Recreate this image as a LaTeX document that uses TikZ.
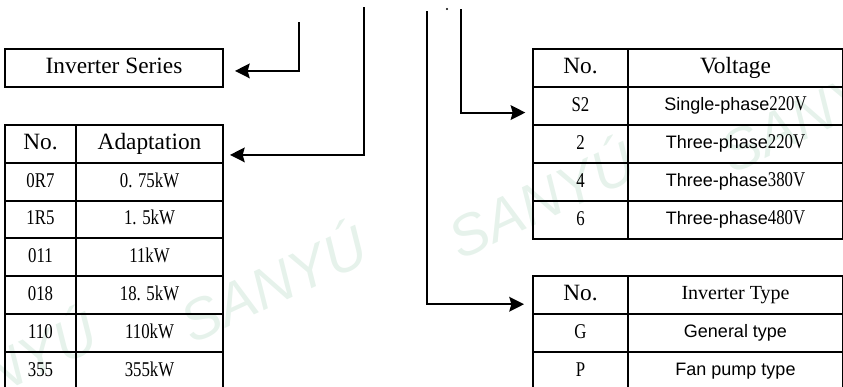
\documentclass[tikz,border=0pt]{standalone}
\usepackage{fontspec}
\setmainfont{Liberation Serif}
\setsansfont{Liberation Sans}
\newfontfamily\codefont[FakeStretch=0.8]{Liberation Serif}
\usetikzlibrary{arrows.meta}

\definecolor{wmark}{RGB}{230,242,235}
\newcommand\voltnum[1]{{\codefont\fontsize{15.75}{18}\selectfont #1}}

\tikzset{
    cell/.style={draw, line width=1.5pt, minimum height=28.35pt, inner sep=0pt, anchor=north west},
    head/.style={font=\fontsize{17.5}{20}\selectfont, text height=12pt, text depth=3.5pt},
    code/.style={font=\codefont\fontsize{15.75}{18}\selectfont, text height=11pt, text depth=3pt},
    plain/.style={font=\sffamily\fontsize{13.5}{16}\selectfont, text height=10.5pt, text depth=3pt},
    link/.style={line width=1.5pt, -{Stealth[length=11pt,width=11pt,inset=1.5pt]}},
    wmtext/.style={wmark, rotate=25, font=\sffamily\itshape\fontsize{43}{50}\selectfont}
}

\begin{document}
\begin{tikzpicture}[x=0.75pt, y=-0.75pt]
    \useasboundingbox (0,0) rectangle (843,386);

    % watermarks
    \node[wmtext] (wm1) at (272,280) {SANYÚ};
    \node[wmtext] (wm2) at (540,196) {SANYÚ};
    \node[wmtext] (wm3) at (812,110) {SANYÚ};
    \node[wmtext] (wm4) at (2,366) {SANYÚ};

    \node[cell, head, minimum width=163.5pt] (ser) at (4,48) {Inverter Series};

    % adaptation table
    \node[cell, head, minimum width=53.25pt] (adN0) at (4,124) {No.};
    \node[cell, head, minimum width=110.25pt] (adV0) at (75,124) {Adaptation};
    \foreach \code/\power [count=\i] in {0R7/{0. 75kW},1R5/{1. 5kW},011/11kW,018/{18. 5kW},110/110kW,355/355kW} {
        \node[cell, code, minimum width=53.25pt] (adN\i) at (4,{124+37.8*\i}) {\code};
        \node[cell, code, minimum width=110.25pt] (adV\i) at (75,{124+37.8*\i}) {\power};
    }

    % voltage table
    \node[cell, head, minimum width=71.25pt] (vN0) at (532,48) {No.};
    \node[cell, head, minimum width=161.25pt] (vV0) at (627,48) {Voltage};
    \foreach \code/\phase/\volt [count=\i] in {S2/Single/220V,2/Three/220V,4/Three/380V,6/Three/480V} {
        \node[cell, code, minimum width=71.25pt] (vN\i) at (532,{48+38*\i}) {\code};
        \node[cell, plain, minimum width=161.25pt] (vV\i) at (627,{48+38*\i}) {\phase-phase\voltnum{\volt}};
    }

    % type table
    \node[cell, head, minimum width=71.25pt] (tN0) at (532,275) {No.};
    \node[cell, font=\fontsize{15}{18}\selectfont, text height=11pt, text depth=3.5pt, minimum width=161.25pt] (tV0) at (627,275) {Inverter Type};
    \foreach \code/\kind [count=\i] in {G/General type,P/Fan pump type} {
        \node[cell, code, minimum width=71.25pt] (tN\i) at (532,{275+38*\i}) {\code};
        \node[cell, plain, minimum width=161.25pt] (tV\i) at (627,{275+38*\i}) {\kind};
    }

    \coordinate (top1) at (299,22);
    \coordinate (top2) at (364,7);
    \coordinate (top3) at (461,9);
    \coordinate (top4) at (427,11);

    \draw[link, shorten >=8.25pt] (top1) |- ([yshift=-2.25pt]ser.east);
    \draw[link, shorten >=4.5pt] (top2) |- ([yshift=-8.25pt]adV0.east);
    \draw[link, shorten >=5pt] (top3) |- ([yshift=-5pt]vN1.west);
    \draw[link, shorten >=6pt] (top4) |- ([yshift=-7pt]tN0.west);

    \fill (447,9) circle (0.8pt);
\end{tikzpicture}
\end{document}
